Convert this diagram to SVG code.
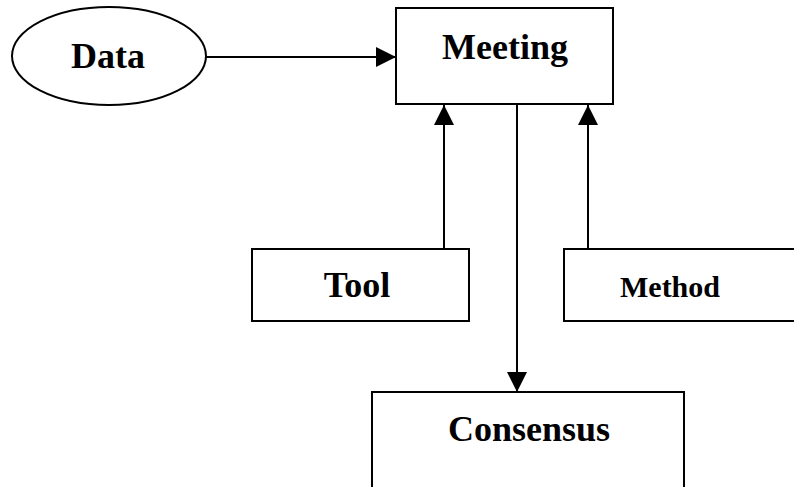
<svg xmlns="http://www.w3.org/2000/svg" width="794" height="487" viewBox="0 0 794 487">
<style>
.shape{fill:#ffffff;stroke:#000000;stroke-width:2}
.lbl{font-family:"Liberation Serif","Times New Roman",serif;font-weight:bold;font-size:36px;fill:#000000;text-anchor:middle}
.sm{font-size:30px}
.edge{stroke:#000000;stroke-width:2;fill:none}
</style>
<defs>
<marker id="ah" viewBox="0 0 20 20" refX="20" refY="10" markerWidth="20" markerHeight="20" markerUnits="userSpaceOnUse" orient="auto">
<path d="M0,0 L20,10 L0,20 Z" fill="#000000"/>
</marker>
</defs>
<rect width="794" height="487" fill="#ffffff"/>
<g id="connectors">
<line class="edge" x1="205" y1="57" x2="396" y2="57" marker-end="url(#ah)"/>
<line class="edge" x1="444" y1="249" x2="444" y2="105" marker-end="url(#ah)"/>
<line class="edge" x1="588" y1="249" x2="588" y2="105" marker-end="url(#ah)"/>
<line class="edge" x1="517" y1="104" x2="517" y2="392" marker-end="url(#ah)"/>
</g>
<g id="data">
<ellipse class="shape" cx="109" cy="56" rx="97" ry="49"/>
<text class="lbl" x="108" y="68">Data</text>
</g>
<g id="meeting">
<rect class="shape" x="396" y="8" width="217" height="96"/>
<text class="lbl" x="505" y="59">Meeting</text>
</g>
<g id="tool">
<rect class="shape" x="252" y="249" width="217" height="72"/>
<text class="lbl" x="357" y="297">Tool</text>
</g>
<g id="method">
<rect class="shape" x="564" y="249" width="240" height="72"/>
<text class="lbl sm" x="670" y="297">Method</text>
</g>
<g id="consensus">
<rect class="shape" x="372" y="392" width="312" height="110"/>
<text class="lbl" x="529" y="441">Consensus</text>
</g>
</svg>
